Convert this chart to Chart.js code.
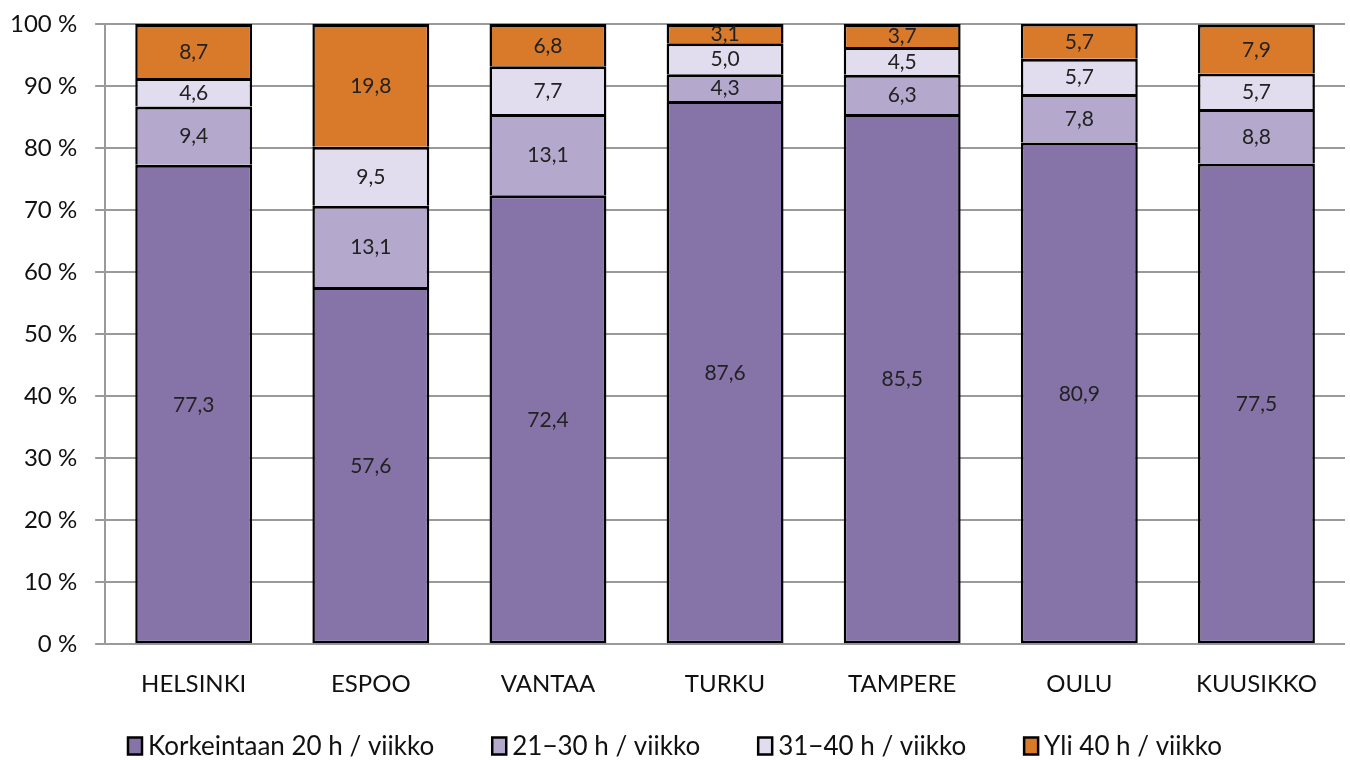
<!DOCTYPE html>
<html>
<head>
<meta charset="utf-8">
<script src="https://cdn.jsdelivr.net/npm/chart.js@4/dist/chart.umd.min.js"></script>
<style>
  html, body { margin: 0; padding: 0; background: #fff; }
  #wrap { width: 1350px; height: 760px; }
</style>
</head>
<body>
<div id="wrap"><canvas id="chart" width="1350" height="760"></canvas></div>
<script>
const cities = ["HELSINKI", "ESPOO", "VANTAA", "TURKU", "TAMPERE", "OULU", "KUUSIKKO"];
const upTo20 = [77.3, 57.6, 72.4, 87.6, 85.5, 80.9, 77.5];
const h21to30 = [9.4, 13.1, 13.1, 4.3, 6.3, 7.8, 8.8];
const h31to40 = [4.6, 9.5, 7.7, 5.0, 4.5, 5.7, 5.7];
const over40 = [8.7, 19.8, 6.8, 3.1, 3.7, 5.7, 7.9];
const seriesNames = ["Korkeintaan 20 h / viikko", "21\u221230 h / viikko", "31\u221240 h / viikko", "Yli 40 h / viikko"];
const seriesColors = ["#8674a9", "#b4a9cd", "#e2dcef", "#d97a2a"];
const yTicks = [0, 10, 20, 30, 40, 50, 60, 70, 80, 90, 100];

const FONT = "Lato";

// value in the middle of every segment
const segmentLabels = {
  id: "segmentLabels",
  afterDatasetsDraw(chart) {
    const ctx = chart.ctx;
    ctx.save();
    ctx.font = "21px " + FONT;
    ctx.fillStyle = "#222";
    ctx.textAlign = "center";
    ctx.textBaseline = "middle";
    chart.data.datasets.forEach((ds, i) => {
      chart.getDatasetMeta(i).data.forEach((bar, j) => {
        const { x, y, base } = bar.getProps(["x", "y", "base"], true);
        ctx.fillText(ds.data[j].toFixed(1).replace(".", ","), x, (y + base) / 2 + 1);
      });
    });
    ctx.restore();
  },
};

// legend along the bottom, tighter than the built-in one
const bottomLegend = {
  id: "bottomLegend",
  afterDraw(chart) {
    const ctx = chart.ctx;
    const box = 14, boxH = 17, gapText = 6, gapItem = 58;
    ctx.save();
    ctx.font = "26px " + FONT;
    ctx.textBaseline = "middle";
    const widths = seriesNames.map((t) => box + gapText + ctx.measureText(t).width);
    const total = widths.reduce((a, b) => a + b, 0) + gapItem * (widths.length - 1);
    let x = (chart.width - total) / 2;
    const y = 746;
    seriesNames.forEach((t, i) => {
      ctx.fillStyle = seriesColors[i];
      ctx.fillRect(x, y - boxH / 2, box, boxH);
      ctx.lineWidth = 2.5;
      ctx.strokeStyle = "#000";
      ctx.strokeRect(x, y - boxH / 2, box, boxH);
      ctx.fillStyle = "#111";
      ctx.fillText(t, x + box + gapText, y + 1);
      x += widths[i] + gapItem;
    });
    ctx.restore();
  },
};

const mk = (i, data) => ({
  label: seriesNames[i],
  data,
  backgroundColor: seriesColors[i],
  borderColor: "#000",
  borderWidth: { top: 3, left: 2.5, right: 2.5, bottom: i === 0 ? 2.5 : 0 },
  borderSkipped: false,
  barPercentage: 0.66,
  categoryPercentage: 1,
});

new Chart(document.getElementById("chart"), {
  type: "bar",
  data: {
    labels: cities,
    datasets: [mk(0, upTo20), mk(1, h21to30), mk(2, h31to40), mk(3, over40)],
  },
  options: {
    responsive: false,
    animation: false,
    layout: { padding: { top: 24, right: 5, left: -8, bottom: 43 } },
    plugins: {
      tooltip: { enabled: false },
      legend: { display: false },
    },
    scales: {
      x: {
        stacked: true,
        grid: { display: false },
        border: { display: false },
        ticks: { font: { family: FONT, size: 24 }, color: "#111", padding: 18 },
      },
      y: {
        stacked: true,
        min: 0,
        max: 100,
        afterBuildTicks(axis) {
          axis.ticks = yTicks.map((v) => ({ value: v }));
        },
        afterFit(axis) {
          axis.paddingTop = 0;
          axis.paddingBottom = 0;
        },
        grid: { color: "#9a9a9a", lineWidth: 2, tickLength: 10 },
        border: { color: "#9a9a9a", width: 2 },
        ticks: {
          font: { family: FONT, size: 24 },
          color: "#111",
          padding: 18,
          callback: (v) => v + " %",
        },
      },
    },
  },
  plugins: [segmentLabels, bottomLegend],
});
</script>
</body>
</html>
